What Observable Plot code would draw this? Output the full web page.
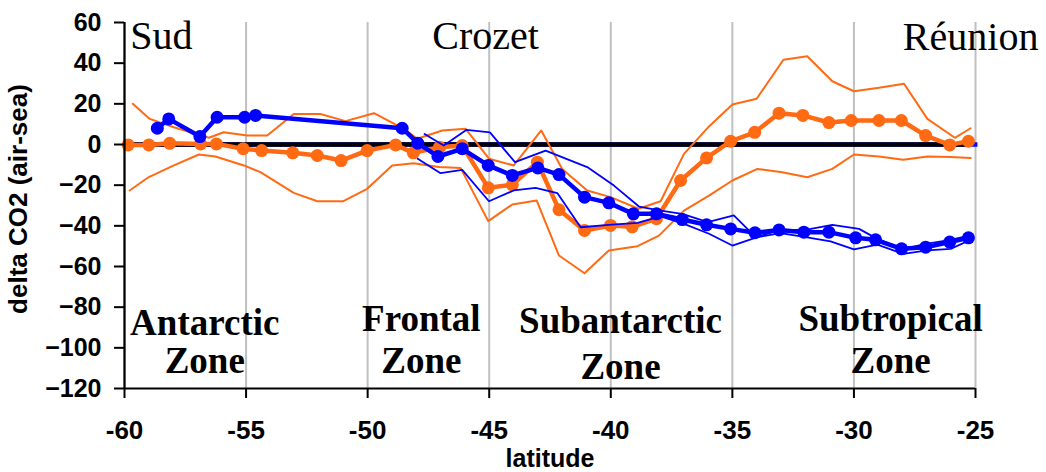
<!DOCTYPE html>
<html><head><meta charset="utf-8">
<script src="https://cdn.jsdelivr.net/npm/d3@7"></script>
<script src="https://cdn.jsdelivr.net/npm/@observablehq/plot@0.6"></script>
<style>html,body{margin:0;padding:0;background:#fff;}</style>
</head><body><div id="chart"></div>
<script>
// ---- axes ----
const xTicks = [-60, -55, -50, -45, -40, -35, -30, -25];
const gridLats = [-55, -50, -45, -40, -35, -30, -25];
const yTicks = [60, 40, 20, 0, -20, -40, -60, -80, -100, -120];

// ---- orange series (mean + envelope) ----
const orangeLat = [-59.85, -59.0, -58.14, -56.87, -56.22, -55.12, -54.36, -53.08, -52.07, -51.09, -50.02, -48.85, -48.12, -47.04, -46.11, -45.04, -44.05, -43.02, -42.13, -41.08, -40.01, -39.12, -38.12, -37.13, -36.06, -35.07, -34.08, -33.08, -32.1, -31.03, -30.11, -28.97, -28.05, -27.05, -26.06, -25.29];
const orangeVal = [-0.2, -0.2, 0.6, 0.3, 0.3, -2.1, -3, -4.1, -5.4, -7.9, -3, -0.2, -4.1, -1.3, -0.5, -21.3, -19.8, -8.7, -32.1, -42.3, -39.8, -40.5, -36.5, -17.7, -6.6, 1.6, 6, 15.4, 14.3, 10.8, 11.8, 11.8, 11.8, 4.4, -0.2, 1.6];

const orangeHiLat = [-59.66, -58.96, -57.97, -56.53, -55.92, -54.95, -54.13, -53.04, -51.94, -50.91, -49.74, -48.51, -47.96, -46.93, -45.97, -45.01, -43.99, -42.86, -42.0, -40.97, -40.01, -38.86, -37.95, -36.99, -35.96, -35.0, -34.0, -32.9, -31.92, -30.89, -30.0, -28.97, -27.94, -26.98, -25.85, -25.2];
const orangeHiVal = [20, 12.6, 8.5, 3.3, 6, 4.4, 4.4, 15, 15, 11.5, 15.4, 7.7, 2.8, 6.9, 7.7, -7, -10.3, 6.9, -12, -22.6, -25.9, -31.6, -27.9, -4.6, 8.9, 19.7, 22.5, 41.7, 43.4, 31.1, 26.2, 27.9, 29.9, 12.6, 3.3, 8];

const orangeLoLat = [-59.79, -59.0, -57.97, -56.94, -56.26, -55.09, -54.41, -53.04, -52.07, -51.0, -50.02, -48.99, -48.1, -47.07, -46.18, -45.04, -44.05, -43.05, -42.13, -41.08, -40.08, -38.9, -38.02, -36.99, -35.96, -35.0, -33.97, -32.95, -31.92, -30.89, -30.0, -28.97, -27.97, -26.98, -26.02, -25.2];
const orangeLoVal = [-22.6, -16, -10.3, -4.9, -5.9, -10.3, -13.6, -23.8, -27.9, -27.9, -21.8, -10.3, -9.2, -11.1, -11.5, -37.7, -29.5, -27.5, -54.6, -63.3, -52.1, -50, -44.8, -32.5, -25.1, -17.7, -12, -13.6, -16.1, -12, -4.9, -5.9, -7.5, -5.9, -6.2, -6.7];

// ---- blue series (mean + envelope) ----
const blueLat = [-58.65, -58.18, -56.9, -56.19, -55.06, -54.61, -48.58, -47.94, -47.11, -46.11, -45.04, -44.05, -43.0, -42.13, -41.08, -40.08, -39.07, -38.12, -37.06, -36.06, -35.07, -34.07, -33.08, -32.06, -31.03, -29.93, -29.11, -28.04, -27.05, -26.06, -25.29];
const blueVal = [8, 12.6, 3.9, 13.4, 13.4, 14.3, 8, 0.65, -5.9, -2.1, -10.3, -15.2, -11.5, -14.8, -25.9, -28.7, -34.1, -34.1, -36.9, -39.5, -41.5, -43.4, -42, -43.1, -43.1, -45.9, -46.9, -51.3, -50.5, -48, -45.9];

const blueHiLat = [-47.66, -46.87, -45.93, -44.97, -43.94, -42.68, -41.93, -40.97, -39.87, -38.84, -37.95, -37.06, -36.01, -34.94, -34.04, -33.02, -31.99, -30.89, -29.79, -29.04, -27.97, -26.98, -26.02, -25.27];
const blueHiVal = [5.2, -0.5, 7.2, 6, -8.7, -3, -6.6, -11.1, -20.2, -30.5, -32.5, -34.1, -38.2, -34.9, -45.6, -42, -42, -39.5, -41.5, -46.4, -51.3, -48.8, -46.9, -44.8];

const blueLoLat = [-47.94, -47.0, -46.11, -45.01, -43.99, -43.09, -42.2, -41.24, -40.09, -38.9, -37.95, -36.99, -35.96, -35.0, -33.97, -33.02, -31.99, -30.96, -30.0, -29.04, -27.97, -26.98, -26.02, -25.27];
const blueLoVal = [-7, -14.1, -12.5, -27.9, -22.6, -21.3, -23.9, -40.7, -39.5, -38.5, -35.4, -39, -43.9, -49.7, -45.6, -43.6, -45.6, -47.6, -51.6, -49.2, -53.8, -52.1, -51.3, -47.2];

// ---- zero reference line ----
const zeroBlueExtent = [-60.05, -24.9];
const zeroBlackExtent = [-59.84, -25.2];

// ---- annotations ----
const placeNames = ["Sud", "Crozet", "Réunion"];
const placeLat = [-58.48, -45.15, -25.2];
const placeVal = [47.2, 47.2, 46.7];

const zoneText = ["Antarctic", "Zone", "Frontal", "Zone", "Subantarctic", "Zone", "Subtropical", "Zone"];
const zoneLat = [-56.7, -56.7, -47.79, -47.79, -39.6, -39.6, -28.49, -28.49];
const zoneVal = [-93.5, -112.2, -91.5, -112.6, -92.5, -115.1, -91.5, -112.6];

const xLabel = "latitude";
const yLabel = "delta CO2 (air-sea)";

const ORANGE = "#ff6a13";
const BLUE = "#0000ff";
const SANS = "'Liberation Sans', Arial, Helvetica, sans-serif";
const SERIF = "'Liberation Serif', 'Times New Roman', Times, serif";

const chart = Plot.plot({
  width: 1046,
  height: 472,
  marginLeft: 124,
  marginRight: 71,
  marginTop: 22,
  marginBottom: 84,
  x: {domain: [-60, -25]},
  y: {domain: [-120, 60]},
  style: {background: "#fff", overflow: "visible", fontFamily: SANS, color: "#000"},
  marks: [
    Plot.ruleX(gridLats, {stroke: "#c0c0c0", strokeWidth: 2}),
    // zero line
    Plot.ruleY([0], {x1: zeroBlueExtent[0], x2: zeroBlueExtent[1], stroke: BLUE, strokeWidth: 4.5}),
    Plot.ruleY([0], {x1: zeroBlackExtent[0], x2: zeroBlackExtent[1], stroke: "#000", strokeWidth: 4.5}),
    // orange
    Plot.line(orangeHiVal, {x: orangeHiLat, y: orangeHiVal, stroke: ORANGE, strokeWidth: 2}),
    Plot.line(orangeLoVal, {x: orangeLoLat, y: orangeLoVal, stroke: ORANGE, strokeWidth: 2}),
    Plot.line(orangeVal, {x: orangeLat, y: orangeVal, stroke: ORANGE, strokeWidth: 4.5}),
    Plot.dot(orangeVal, {x: orangeLat, y: orangeVal, fill: ORANGE, r: 6.5}),
    // blue
    Plot.line(blueHiVal, {x: blueHiLat, y: blueHiVal, stroke: BLUE, strokeWidth: 1.8}),
    Plot.line(blueLoVal, {x: blueLoLat, y: blueLoVal, stroke: BLUE, strokeWidth: 1.8}),
    Plot.line(blueVal, {x: blueLat, y: blueVal, stroke: BLUE, strokeWidth: 4.5}),
    Plot.dot(blueVal, {x: blueLat, y: blueVal, fill: BLUE, r: 6.5}),
    // axes
    Plot.axisY({ticks: yTicks, tickSize: 10, tickPadding: 13, strokeWidth: 2, label: null,
      fontSize: 25, fontWeight: "bold", fontFamily: SANS, fill: "#000", stroke: "#000"}),
    Plot.axisX({ticks: xTicks, tickSize: 10, tickPadding: 22, strokeWidth: 2, label: null,
      fontSize: 26, fontWeight: "bold", fontFamily: SANS, fill: "#000", stroke: "#000", tickFormat: d => String(d)}),
    Plot.ruleX([-60], {stroke: "#000", strokeWidth: 2.3}),
    Plot.ruleY([-120], {stroke: "#000", strokeWidth: 2}),
    // axis titles
    Plot.text([xLabel], {frameAnchor: "bottom", text: d => d, dy: 78, lineAnchor: "bottom",
      fontSize: 25, fontWeight: "bold", fontFamily: SANS, fill: "#000"}),
    Plot.text([yLabel], {frameAnchor: "left", text: d => d, dx: -106, dy: -6.5, rotate: -90,
      textAnchor: "middle", lineAnchor: "middle", fontSize: 26, fontWeight: "bold", fontFamily: SANS, fill: "#000"}),
    // annotations
    Plot.text(placeNames, {x: placeLat, y: placeVal, text: d => d, lineAnchor: "bottom", textAnchor: "middle",
      fontSize: 40, fontFamily: SERIF, fill: "#000"}),
    Plot.text(zoneText, {x: zoneLat, y: zoneVal, text: d => d, lineAnchor: "bottom", textAnchor: "middle",
      fontSize: 37, fontWeight: "bold", fontFamily: SERIF, fill: "#000"})
  ]
});
document.getElementById("chart").appendChild(chart);
</script>
</body></html>
